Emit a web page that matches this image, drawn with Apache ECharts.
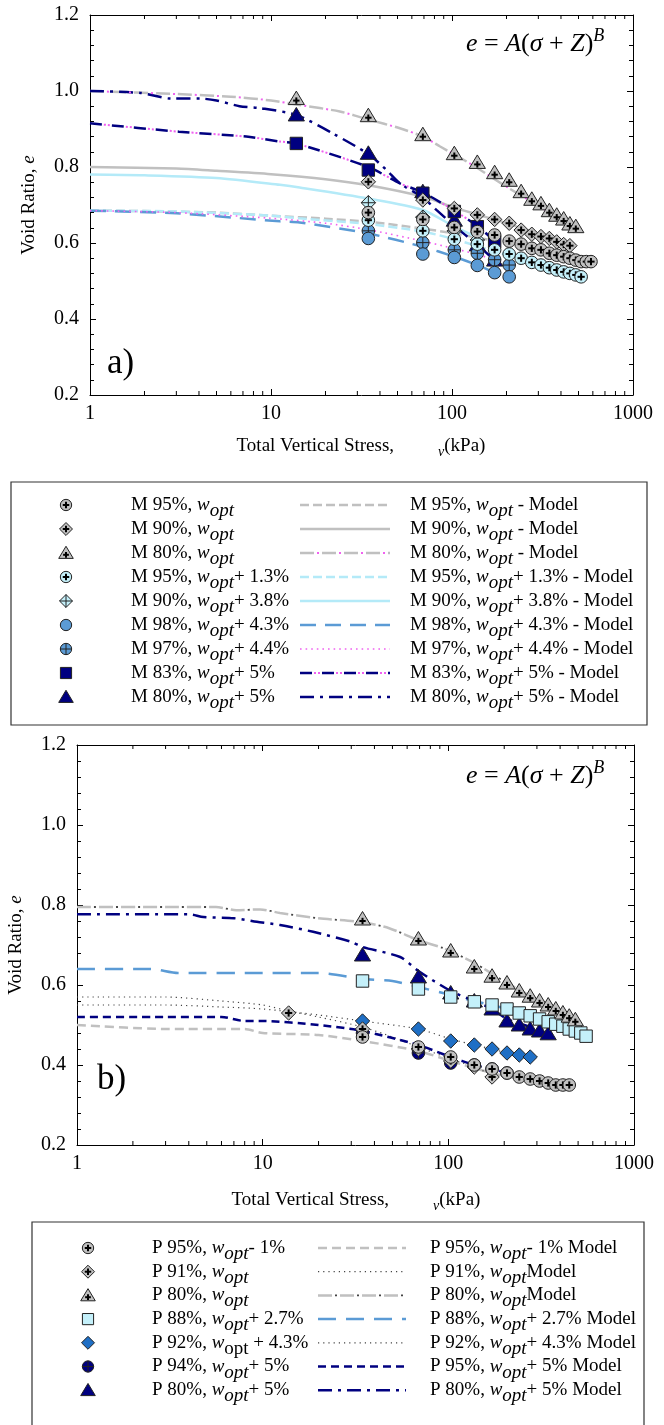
<!DOCTYPE html>
<html><head><meta charset="utf-8">
<script src="https://cdn.jsdelivr.net/npm/echarts@6/dist/echarts.min.js"></script>
<style>html,body{margin:0;padding:0;background:#fff}#c{width:664px;height:1425px}</style>
</head><body><div id="c"></div>
<script>
// ================= DATA =================
const xTickLabels = ['1', '10', '100', '1000'];
const logMinorTicks = [2,3,4,5,6,7,8,9,20,30,40,50,60,70,80,90,200,300,400,500,600,700,800,900];

// ---- panel a) measured (stress kPa, void ratio) ----
const a_M95_wopt = [[34.5,0.68],[69,0.662],[103,0.641],[138,0.63],[172,0.621],[207,0.605],[241,0.597],[276,0.586],[310,0.582],[345,0.573],[379,0.568],[414,0.564],[448,0.56],[483,0.555],[517,0.551],[552,0.551],[586,0.551]];
const a_M90_wopt = [[34.5,0.761],[69,0.713],[103,0.691],[138,0.674],[172,0.662],[207,0.652],[241,0.634],[276,0.623],[310,0.617],[345,0.612],[379,0.603],[414,0.596],[448,0.593]];
const a_M80_wopt = [[13.8,0.98],[34.5,0.935],[69,0.885],[103,0.835],[138,0.812],[172,0.785],[207,0.765],[241,0.735],[276,0.715],[310,0.703],[345,0.685],[379,0.673],[414,0.663],[448,0.65],[483,0.643]];
const a_M95_w13 = [[34.5,0.66],[69,0.632],[103,0.61],[138,0.597],[172,0.582],[207,0.571],[241,0.56],[276,0.549],[310,0.542],[345,0.535],[379,0.529],[414,0.524],[448,0.52],[483,0.516],[517,0.511]];
const a_M90_w38 = [[34.5,0.706],[69,0.668],[103,0.632],[138,0.608]];
const a_M98_w43 = [[34.5,0.612],[69,0.571],[103,0.562],[138,0.541],[172,0.522],[207,0.511]];
const a_M97_w44 = [[34.5,0.632],[69,0.601],[103,0.582],[138,0.573],[172,0.556],[207,0.542]];
const a_M83_w5  = [[13.8,0.862],[34.5,0.792],[69,0.731],[103,0.683],[138,0.643],[172,0.603]];
const a_M80_w5  = [[13.8,0.937],[34.5,0.836],[69,0.735],[103,0.66],[138,0.595],[172,0.555]];

// ---- panel a) model curves ----
const a_M95_wopt_fit = [[1,0.685],[2,0.684],[5,0.68],[10,0.672],[20,0.664],[34.5,0.656],[69,0.638],[103,0.625],[172,0.605],[276,0.58],[414,0.562],[586,0.55]];
const a_M90_wopt_fit = [[1,0.8],[3,0.796],[5,0.79],[10,0.781],[20,0.768],[34.5,0.752],[69,0.722],[103,0.693],[138,0.675],[207,0.65],[310,0.62],[448,0.595]];
const a_M80_wopt_fit = [[1,1.0],[3,0.992],[6,0.985],[10,0.975],[14.4,0.963],[24,0.946],[34.5,0.925],[51.5,0.902],[69,0.88],[86,0.854],[130,0.805],[200,0.748],[305,0.696],[448,0.647],[483,0.64]];
const a_M95_w13_fit  = [[1,0.685],[3,0.683],[10,0.672],[14.4,0.665],[34.5,0.65],[69,0.63],[103,0.61],[172,0.578],[276,0.55],[414,0.525],[517,0.512]];
const a_M90_w38_fit  = [[1,0.78],[2,0.778],[5,0.771],[11.2,0.753],[14.4,0.746],[34.5,0.717],[69,0.687],[103,0.643],[138,0.615]];
const a_M98_w43_fit  = [[1,0.685],[3,0.678],[11.2,0.657],[14.4,0.654],[34.5,0.625],[69,0.59],[103,0.564],[138,0.542],[172,0.523],[207,0.511]];
const a_M97_w44_fit  = [[1,0.685],[3,0.68],[10,0.665],[20,0.652],[34.5,0.635],[69,0.605],[103,0.585],[138,0.57],[172,0.555],[207,0.542]];
const a_M83_w5_fit   = [[1,0.915],[3.1,0.893],[7.3,0.88],[11.2,0.867],[13.8,0.862],[34.5,0.8],[51.5,0.757],[69,0.733],[103,0.685],[138,0.645],[172,0.605]];
const a_M80_w5_fit   = [[1,1.0],[1.9,0.995],[2.8,0.98],[4.1,0.98],[5,0.975],[6.7,0.96],[8.7,0.955],[13.8,0.937],[22,0.888],[34.5,0.834],[43.5,0.792],[51.5,0.757],[69,0.72],[82,0.687],[103,0.645],[138,0.595],[172,0.555]];

// ---- panel b) measured ----
const b_P95_wm1 = [[34.5,0.47],[69,0.445],[103,0.42],[138,0.4],[172,0.39],[207,0.38],[241,0.37],[276,0.365],[310,0.36],[345,0.355],[379,0.35],[414,0.35],[448,0.35]];
const b_P91_wopt = [[13.8,0.53],[34.5,0.49],[69,0.44],[103,0.41],[138,0.395],[172,0.37]];
const b_P80_wopt = [[34.5,0.765],[69,0.715],[103,0.685],[138,0.645],[172,0.622],[207,0.605],[241,0.585],[276,0.572],[310,0.56],[345,0.55],[379,0.54],[414,0.53],[448,0.522],[483,0.513]];
const b_P88_w27 = [[34.5,0.61],[69,0.59],[103,0.57],[138,0.558],[172,0.55],[207,0.54],[241,0.53],[276,0.523],[310,0.515],[345,0.508],[379,0.502],[414,0.497],[448,0.49],[483,0.485],[517,0.48],[552,0.472]];
const b_P92_w43 = [[34.5,0.51],[69,0.49],[103,0.46],[138,0.45],[172,0.44],[207,0.43],[241,0.425],[276,0.42]];
const b_P94_w5  = [[34.5,0.48],[69,0.43],[103,0.405],[138,0.4],[172,0.39],[207,0.38]];
const b_P80_w5  = [[34.5,0.675],[69,0.62],[103,0.58],[138,0.56],[172,0.54],[207,0.51],[241,0.5],[276,0.49],[310,0.485],[345,0.478]];

// ---- panel b) model curves ----
const b_P95_wm1_fit = [[1,0.5],[3,0.49],[8,0.49],[10,0.48],[20,0.475],[34.5,0.46],[69,0.435],[103,0.41],[172,0.38],[276,0.36],[448,0.35]];
const b_P91_wopt_fit = [[1,0.57],[3,0.57],[6,0.56],[10,0.55],[13.8,0.535],[20,0.52],[34.5,0.495],[50,0.47],[69,0.445],[103,0.415],[138,0.395],[172,0.375]];
const b_P80_wopt_fit = [[1,0.795],[3,0.795],[5.6,0.795],[7.2,0.787],[9.7,0.789],[12.4,0.78],[20,0.767],[34.5,0.757],[48,0.742],[69,0.712],[94,0.692],[138,0.655],[207,0.605],[310,0.56],[448,0.52],[483,0.512]];
const b_P88_w27_fit = [[1,0.64],[2.5,0.64],[3.5,0.63],[10,0.63],[20,0.63],[34.5,0.615],[50,0.61],[69,0.595],[103,0.575],[138,0.56],[207,0.54],[310,0.515],[414,0.495],[552,0.47]];
const b_P92_w43_fit = [[1,0.55],[3,0.55],[6,0.545],[10,0.54],[20,0.525],[34.5,0.51],[69,0.49],[103,0.465],[138,0.45],[172,0.44],[207,0.43],[276,0.42]];
const b_P95_w5_fit  = [[1,0.52],[3,0.52],[6,0.52],[8,0.51],[10,0.51],[20,0.5],[34.5,0.485],[69,0.45],[103,0.42],[138,0.4],[172,0.39],[207,0.38]];
const b_P80_w5_fit  = [[1,0.777],[4,0.777],[4.8,0.77],[7,0.767],[9.3,0.758],[12.4,0.75],[18.7,0.733],[30,0.708],[34.5,0.695],[55,0.67],[69,0.635],[103,0.585],[138,0.56],[172,0.54],[207,0.515],[276,0.495],[345,0.478]];

// ================= STYLE =================
const F = 'Liberation Serif';
const FS = 19;
const C = {gray:'#c0c0c0', lb:'#c4f0fa', lbLine:'#b4eaf8', cb:'#5b9bd5', navy:'#000080', blue:'#1f6fc5', pink:'#f060f0'};
const STY = {
  grayDash:      {color:C.gray, width:2.5, type:[9,4]},
  graySolid:     {color:C.gray, width:2.5, type:'solid'},
  grayDashPink:  {color:C.gray, width:2.5, type:[14,8], over:{color:C.pink, width:2, type:[2,20], offset:5}},
  lbDash:        {color:C.lbLine, width:2.5, type:[9,4]},
  lbSolid:       {color:C.lbLine, width:2.5, type:'solid'},
  cbLong:        {color:C.cb, width:2.5, type:[16,9]},
  pinkDot:       {color:C.pink, width:1.6, type:[1.6,4]},
  navyDashPink2: {color:C.navy, width:2.5, type:[12,10], over:{color:C.pink, width:2, type:[2,2,2,16], offset:8}},
  navyDashDot:   {color:C.navy, width:2.5, type:[14,6,3,6]},
  grayDash2:     {color:C.gray, width:2.5, type:[9,5]},
  dotDark:       {color:'#444', width:1.2, type:[1.2,4]},
  grayDashDark:  {color:C.gray, width:2.5, type:[14,8], over:{color:'#444', width:1.8, type:[2,20], offset:5}},
  cbLong2:       {color:C.cb, width:2.5, type:[18,10]},
  navyDash:      {color:C.navy, width:2.5, type:[8,5]},
};

function plus(cx, cy, a, w, col) {
  return [
    {type:'line', shape:{x1:cx-a, y1:cy, x2:cx+a, y2:cy}, style:{stroke:col||'#000', lineWidth:w}},
    {type:'line', shape:{x1:cx, y1:cy-a, x2:cx, y2:cy+a}, style:{stroke:col||'#000', lineWidth:w}}
  ];
}
function marker(kind, cx, cy, k) {
  k = k || 1;
  const r = 6.3*k, d = 7.2*k, t = 7.5*k, sq = 6.2*k;
  const S = {stroke:'#222', lineWidth:1};
  const circ = f => ({type:'circle', shape:{cx, cy, r}, style:Object.assign({fill:f}, S)});
  const diam = f => ({type:'polygon', shape:{points:[[cx,cy-d],[cx+d,cy],[cx,cy+d],[cx-d,cy]]}, style:Object.assign({fill:f}, S)});
  const tri = f => ({type:'polygon', shape:{points:[[cx,cy-t],[cx+t*1.08,cy+t*0.8],[cx-t*1.08,cy+t*0.8]]}, style:Object.assign({fill:f}, S)});
  const rect = f => ({type:'rect', shape:{x:cx-sq, y:cy-sq, width:2*sq, height:2*sq}, style:Object.assign({fill:f}, S)});
  switch (kind) {
    case 'circPlusGray': return [circ(C.gray)].concat(plus(cx, cy, 3.6*k, 2));
    case 'diamPlusGray': return [diam(C.gray)].concat(plus(cx, cy, 3.6*k, 2));
    case 'triPlusGray':  return [tri(C.gray)].concat(plus(cx, cy+2*k, 3.2*k, 2));
    case 'circPlusLB':   return [circ(C.lb)].concat(plus(cx, cy, 3.6*k, 2));
    case 'diamCrossLB':  return [diam(C.lb)].concat(plus(cx, cy, d, 1, '#222'));
    case 'circCB':       return [circ(C.cb)];
    case 'circCrossCB':  return [circ(C.cb)].concat(plus(cx, cy, r, 1, '#222'));
    case 'sqNavy':       return [rect(C.navy)];
    case 'triNavy':      return [tri(C.navy)];
    case 'sqLB':         return [rect(C.lb)];
    case 'diamBlue':     return [diam(C.blue)];
    case 'circCrossNavy':return [circ(C.navy)].concat(plus(cx, cy, r, 1, '#222'));
  }
  return [];
}

// ================= SERIES DEFINITIONS =================
const panelA = [
  {data:a_M95_wopt, kind:'circPlusGray', fit:a_M95_wopt_fit, sty:'grayDash',     lab:'M 95%, {i|w}{s|opt}',               mlab:'M 95%, {i|w}{s|opt} - Model'},
  {data:a_M90_wopt, kind:'diamPlusGray', fit:a_M90_wopt_fit, sty:'graySolid',    lab:'M 90%, {i|w}{s|opt}',               mlab:'M 90%, {i|w}{s|opt} - Model'},
  {data:a_M80_wopt, kind:'triPlusGray',  fit:a_M80_wopt_fit, sty:'grayDashPink', lab:'M 80%, {i|w}{s|opt}',               mlab:'M 80%, {i|w}{s|opt} - Model'},
  {data:a_M95_w13,  kind:'circPlusLB',   fit:a_M95_w13_fit,  sty:'lbDash',       lab:'M 95%, {i|w}{s|opt}+ 1.3%',         mlab:'M 95%, {i|w}{s|opt}+ 1.3% - Model'},
  {data:a_M90_w38,  kind:'diamCrossLB',  fit:a_M90_w38_fit,  sty:'lbSolid',      lab:'M 90%, {i|w}{s|opt}+ 3.8%',         mlab:'M 90%, {i|w}{s|opt}+ 3.8% - Model'},
  {data:a_M98_w43,  kind:'circCB',       fit:a_M98_w43_fit,  sty:'cbLong',       lab:'M 98%, {i|w}{s|opt}+ 4.3%',         mlab:'M 98%, {i|w}{s|opt}+ 4.3% - Model'},
  {data:a_M97_w44,  kind:'circCrossCB',  fit:a_M97_w44_fit,  sty:'pinkDot',      lab:'M 97%, {i|w}{s|opt}+ 4.4%',         mlab:'M 97%, {i|w}{s|opt}+ 4.4% - Model'},
  {data:a_M83_w5,   kind:'sqNavy',       fit:a_M83_w5_fit,   sty:'navyDashPink2',lab:'M 83%, {i|w}{s|opt}+ 5%',           mlab:'M 83%, {i|w}{s|opt}+ 5% - Model'},
  {data:a_M80_w5,   kind:'triNavy',      fit:a_M80_w5_fit,   sty:'navyDashDot',  lab:'M 80%, {i|w}{s|opt}+ 5%',           mlab:'M 80%, {i|w}{s|opt}+ 5% - Model'},
];
const panelB = [
  {data:b_P95_wm1,  kind:'circPlusGray', fit:b_P95_wm1_fit,  sty:'grayDash2',    lab:'P 95%, {i|w}{s|opt}- 1%',           mlab:'P 95%, {i|w}{s|opt}- 1% Model'},
  {data:b_P91_wopt, kind:'diamPlusGray', fit:b_P91_wopt_fit, sty:'dotDark',      lab:'P 91%, {i|w}{s|opt}',               mlab:'P 91%, {i|w}{s|opt}Model'},
  {data:b_P80_wopt, kind:'triPlusGray',  fit:b_P80_wopt_fit, sty:'grayDashDark', lab:'P 80%, {i|w}{s|opt}',               mlab:'P 80%, {i|w}{s|opt}Model'},
  {data:b_P88_w27,  kind:'sqLB',         fit:b_P88_w27_fit,  sty:'cbLong2',      lab:'P 88%, {i|w}{s|opt}+ 2.7%',         mlab:'P 88%, {i|w}{s|opt}+ 2.7% Model'},
  {data:b_P92_w43,  kind:'diamBlue',     fit:b_P92_w43_fit,  sty:'dotDark',      lab:'P 92%, {i|w}{u|opt} + 4.3%',        mlab:'P 92%, {i|w}{s|opt}+ 4.3% Model'},
  {data:b_P94_w5,   kind:'circCrossNavy',fit:b_P95_w5_fit,   sty:'navyDash',     lab:'P 94%, {i|w}{s|opt}+ 5%',           mlab:'P 95%, {i|w}{s|opt}+ 5% Model'},
  {data:b_P80_w5,   kind:'triNavy',      fit:b_P80_w5_fit,   sty:'navyDashDot',  lab:'P 80%, {i|w}{s|opt}+ 5%',           mlab:'P 80%, {i|w}{s|opt}+ 5% Model'},
];

// ================= LAYOUT =================
const G = [
  {left:90, top:15, width:543, height:380},
  {left:77, top:745, width:557, height:400},
];

function lineSeries(ai, data, st) {
  const base = {type:'line', xAxisIndex:ai*2, yAxisIndex:ai*2, data, symbol:'none', showSymbol:false,
    smooth:0.25, silent:true, animation:false, z:2, emphasis:{disabled:true}};
  const out = [Object.assign({}, base, {lineStyle:{color:st.color, width:st.width, type:st.type}})];
  if (st.over) out.push(Object.assign({}, base, {z:3, lineStyle:{color:st.over.color, width:st.over.width, type:st.over.type, dashOffset:st.over.offset}}));
  return out;
}
function markerSeries(ai, data, kind) {
  return {type:'custom', coordinateSystem:'cartesian2d', xAxisIndex:ai*2, yAxisIndex:ai*2, data,
    encode:{x:0, y:1}, z:5, silent:true, animation:false, clip:false,
    renderItem: (params, api) => {
      const p = api.coord([api.value(0), api.value(1)]);
      return {type:'group', children: marker(kind, p[0], p[1], 1)};
    }};
}
function minorTickSeries(ai) {
  return {type:'custom', coordinateSystem:'cartesian2d', xAxisIndex:ai*2, yAxisIndex:ai*2,
    data: logMinorTicks.map(v => [v, 0.2, 1.2]), encode:{x:0, y:1}, z:6, silent:true, animation:false, clip:false,
    renderItem: (params, api) => {
      const pb = api.coord([api.value(0), api.value(1)]);
      const pt = api.coord([api.value(0), api.value(2)]);
      return {type:'group', children:[
        {type:'line', shape:{x1:pb[0], y1:pb[1], x2:pb[0], y2:pb[1]-4}, style:{stroke:'#000', lineWidth:1}},
        {type:'line', shape:{x1:pt[0], y1:pt[1], x2:pt[0], y2:pt[1]+4}, style:{stroke:'#000', lineWidth:1}}
      ]};
    }};
}

const series = [];
[panelA, panelB].forEach((panel, ai) => {
  panel.forEach(s => lineSeries(ai, s.fit, STY[s.sty]).forEach(x => series.push(x)));
  panel.slice().reverse().forEach(s => series.push(markerSeries(ai, s.data, s.kind)));
  series.push(minorTickSeries(ai));
});

const axisLineS = {show:true, onZero:false, lineStyle:{color:'#000', width:1}};
function xAxes(gi) {
  const common = {type:'log', logBase:10, gridIndex:gi, min:1, max:1000,
    axisLine:axisLineS, splitLine:{show:false}, minorTick:{show:false}, minorSplitLine:{show:false},
    axisTick:{show:true, inside:true, length:6, lineStyle:{color:'#000'}}};
  return [
    Object.assign({}, common, {position:'bottom', axisLabel:{show:true, margin:9, fontFamily:F, fontSize:20, color:'#000',
      formatter: v => xTickLabels[Math.round(Math.log10(v))] }}),
    Object.assign({}, common, {position:'top', axisLabel:{show:false}})
  ];
}
function yAxes(gi) {
  const common = {type:'value', gridIndex:gi, min:0.2, max:1.2, interval:0.2,
    axisLine:axisLineS, splitLine:{show:false}, minorSplitLine:{show:false},
    axisTick:{show:true, inside:true, length:6, lineStyle:{color:'#000'}},
    minorTick:{show:true, splitNumber:5, length:4, lineStyle:{color:'#000'}}};
  return [
    Object.assign({}, common, {position:'left', axisLabel:{show:true, margin:11, fontFamily:F, fontSize:20, color:'#000', formatter: v => v.toFixed(1)}}),
    Object.assign({}, common, {position:'right', axisLabel:{show:false}})
  ];
}

// ================= GRAPHIC (legends, titles) =================
const RICH = {
  i: {fontStyle:'italic', fontSize:FS, fontFamily:F, fill:'#000'},
  s: {fontStyle:'italic', fontSize:FS, fontFamily:F, fill:'#000', padding:[12,0,0,0]},
  u: {fontSize:FS, fontFamily:F, fill:'#000', padding:[12,0,0,0]},
  v: {fontStyle:'italic', fontSize:14, fontFamily:F, fill:'#000', padding:[12,0,0,0]},
  g: {fontSize:FS, fontFamily:F, width:44},
  it:{fontStyle:'italic', fontSize:26, fontFamily:F, fill:'#000'},
  sup:{fontStyle:'italic', fontSize:18, fontFamily:F, fill:'#000', padding:[0,0,16,0]},
};
function txt(x, y, text, opt) {
  return Object.assign({type:'text', x, y, silent:true, style:Object.assign({text, fontFamily:F, fontSize:FS, fill:'#000',
    align:'left', verticalAlign:'middle', rich:RICH}, opt || {})});
}
function sampleLine(x1, x2, y, st) {
  const dash = Array.isArray(st.type) ? st.type : null;
  const out = [{type:'line', silent:true, shape:{x1, y1:y, x2, y2:y}, style:{stroke:st.color, lineWidth:st.width, lineDash:dash}}];
  if (st.over) out.push({type:'line', silent:true, shape:{x1, y1:y, x2, y2:y},
    style:{stroke:st.over.color, lineWidth:st.over.width, lineDash:st.over.type, lineDashOffset:st.over.offset}});
  return out;
}
function legendBlock(panel, box, cols, y0, dy) {
  const els = [{type:'rect', silent:true, shape:box, style:{fill:'none', stroke:'#333', lineWidth:1.2}}];
  panel.forEach((s, i) => {
    const y = y0 + dy*i;
    marker(s.kind, cols.m, y, 0.9).forEach(e => els.push(Object.assign({silent:true}, e)));
    els.push(txt(cols.t, y, s.lab));
    sampleLine(cols.l1, cols.l2, y, STY[s.sty]).forEach(e => els.push(e));
    els.push(txt(cols.t2, y, s.mlab));
  });
  return els;
}

const graphics = []
  .concat(legendBlock(panelA, {x:11, y:482, width:636, height:243}, {m:66, t:131, l1:300, l2:390, t2:410}, 505, 24))
  .concat(legendBlock(panelB, {x:32, y:1222, width:612, height:220}, {m:88, t:152, l1:318, l2:406, t2:430}, 1248, 23.7))
  .concat([
    txt(361, 446, 'Total Vertical Stress,{g| }{v|v}(kPa)', {align:'center'}),
    txt(356, 1200, 'Total Vertical Stress,{g| }{v|v}(kPa)', {align:'center'}),
    Object.assign(txt(0, 0, 'Void Ratio, {i|e}', {align:'center'}), {x:29, y:205, rotation:Math.PI/2}),
    Object.assign(txt(0, 0, 'Void Ratio, {i|e}', {align:'center'}), {x:16, y:945, rotation:Math.PI/2}),
    txt(107, 364, 'a)', {fontSize:35}),
    txt(97, 1080, 'b)', {fontSize:35}),
    txt(466, 44, '{it|e} = {it|A}({it|σ} + {it|Z}){sup|B}', {fontSize:26}),
    txt(466, 776, '{it|e} = {it|A}({it|σ} + {it|Z}){sup|B}', {fontSize:26}),
  ]);

const option = {
  animation:false,
  backgroundColor:'#fff',
  grid: G.map(g => Object.assign({containLabel:false, outerBoundsMode:'none'}, g)),
  xAxis: xAxes(0).concat(xAxes(1)),
  yAxis: yAxes(0).concat(yAxes(1)),
  series,
  graphic: {elements: graphics},
};
const chart = echarts.init(document.getElementById('c'), null, {renderer:'canvas'});
chart.setOption(option);
</script>
</body></html>
